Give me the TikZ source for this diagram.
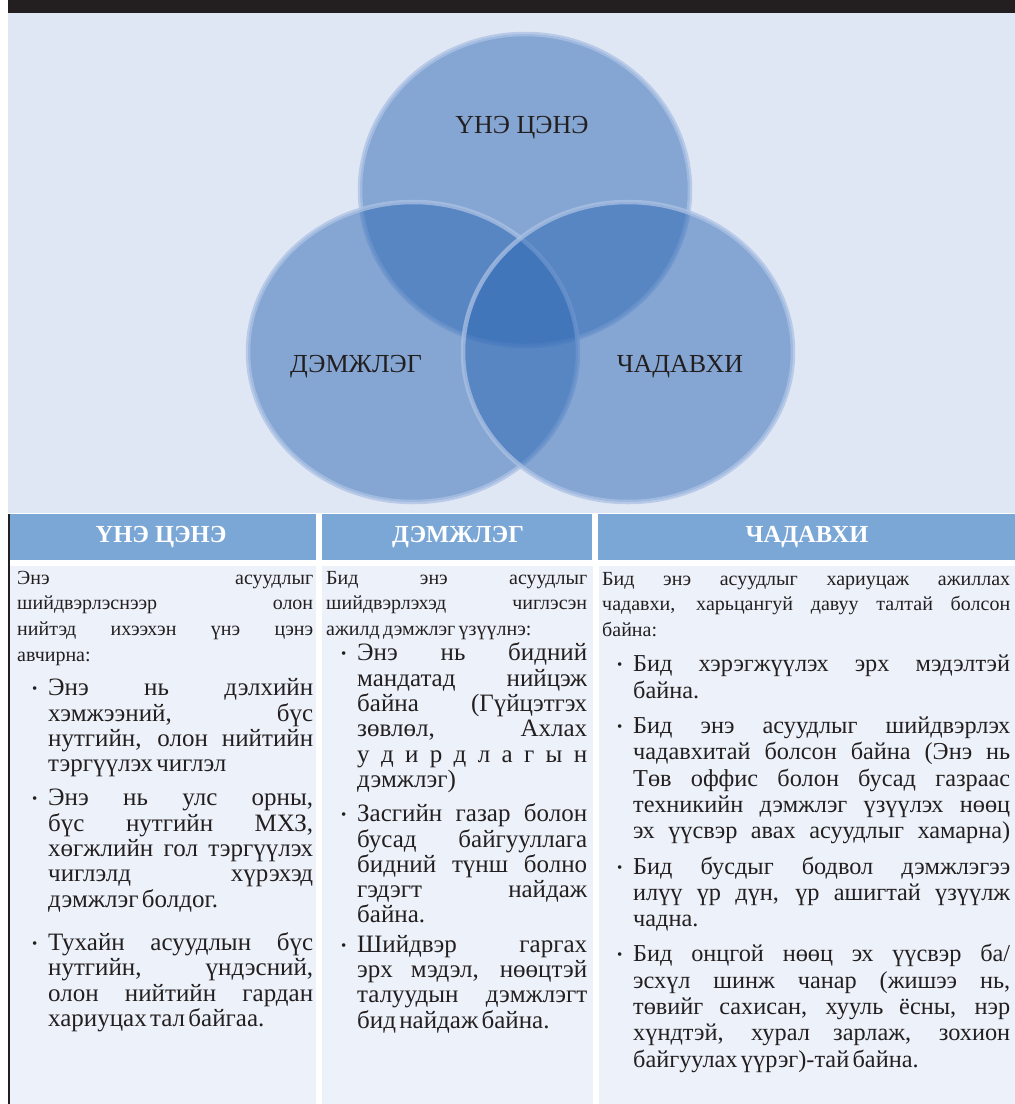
\documentclass[tikz,border=0pt]{standalone}
\usepackage{fontspec}
\setmainfont{Liberation Serif}
\usetikzlibrary{positioning}

\definecolor{titlebar}{HTML}{231F20}
\definecolor{vennback}{HTML}{DFE7F4}
\definecolor{venndisc}{HTML}{2D67B4}
\definecolor{vennring}{HTML}{ABC1E4}
\definecolor{headblue}{HTML}{7BA7D7}
\definecolor{cellblue}{HTML}{EDF2FA}
\definecolor{inktext}{HTML}{231F20}

\newlength{\celllinewidth}
\newcommand{\jl}[1]{{\spaceskip=\fontdimen2\font plus 1fil minus .5\fontdimen2\font\relax
  \leavevmode\hbox to \celllinewidth{#1}}\par}
\newcommand{\lastl}[1]{\leavevmode\hbox{#1}\par}
\newcommand{\bulletdot}{\raisebox{2pt}{\fontsize{15}{15}\selectfont •}}
\newcommand{\introfont}{\fontsize{20}{25.8}\selectfont}
\newcommand{\bulletfont}{\fontsize{25}{25.3}\selectfont}
\newenvironment{bulletlines}[1][9pt]{%
  \par\vspace{#1}\bulletfont
  \leftskip=31pt \advance\celllinewidth by -31pt
  \noindent\llap{\makebox[16pt][l]{\bulletdot}}\ignorespaces}{\par}

\begin{document}
\begin{tikzpicture}[
    x = 1pt, y = -1pt,
    venn disc/.style = {
      fill = venndisc, fill opacity = 0.5,
      draw = vennring, draw opacity = 0.75,
      line width = 4.5pt,
    },
    venn label/.style = {font = \fontsize{26}{30}\selectfont, text = inktext},
    head label/.style = {font = \fontsize{24.5}{28}\selectfont\bfseries, text = white},
    cell text/.style = {anchor = base west, inner sep = 0pt, text = inktext},
  ]
  \useasboundingbox (0, 0) rectangle (1015, 1104);

  \fill [titlebar] (8, 0) rectangle (1015, 13);
  \fill [vennback] (8, 13) rectangle (1015, 513);

  \coordinate (worth centre)   at (525, 190);
  \coordinate (support centre) at (413, 352);
  \coordinate (ability centre) at (628, 352);

  \path [venn disc] (worth centre)   ellipse [x radius = 165pt, y radius = 156pt];
  \path [venn disc] (support centre) ellipse [x radius = 165pt, y radius = 150pt];
  \path [venn disc] (ability centre) ellipse [x radius = 165pt, y radius = 150pt];

  \node [venn label] (worth label)   at (522, 128) {ҮНЭ ЦЭНЭ};
  \node [venn label] (support label) at (356, 367) {ДЭМЖЛЭГ};
  \node [venn label] (ability label) at (680, 367) {ЧАДАВХИ};

  \fill [titlebar] (8, 514) rectangle (10, 1104);

  \fill [headblue] (10, 514)  rectangle (316, 560);
  \fill [headblue] (322, 514) rectangle (592, 560);
  \fill [headblue] (598, 514) rectangle (1015, 560);

  \fill [cellblue] (10, 566)  rectangle (316, 1104);
  \fill [cellblue] (322, 566) rectangle (593, 1104);
  \fill [cellblue] (599, 566) rectangle (1015, 1104);

  \node [head label] (worth head)   at (161, 537) {ҮНЭ ЦЭНЭ};
  \node [head label] (support head) at (458, 537) {ДЭМЖЛЭГ};
  \node [head label] (ability head) at (807, 537) {ЧАДАВХИ};

  \node [cell text, text width = 296pt] (worth text) at (17, 584) {%
    \setlength{\celllinewidth}{296pt}%
    {\introfont
      \jl{Энэ асуудлыг}
      \jl{шийдвэрлэснээр олон}
      \jl{нийтэд ихээхэн үнэ цэнэ}
      \lastl{авчирна:}}
    \begin{bulletlines}
      \jl{Энэ нь дэлхийн}
      \jl{хэмжээний, бүс}
      \jl{нутгийн, олон нийтийн}
      \lastl{тэргүүлэх чиглэл}
    \end{bulletlines}
    \begin{bulletlines}
      \jl{Энэ нь улс орны,}
      \jl{бүс нутгийн МХЗ,}
      \jl{хөгжлийн гол тэргүүлэх}
      \jl{чиглэлд хүрэхэд}
      \lastl{дэмжлэг болдог.}
    \end{bulletlines}
    \begin{bulletlines}[18pt]
      \jl{Тухайн асуудлын бүс}
      \jl{нутгийн, үндэсний,}
      \jl{олон нийтийн гардан}
      \lastl{хариуцах тал байгаа.}
    \end{bulletlines}};

  \node [cell text, text width = 261pt] (support text) at (326, 584) {%
    \setlength{\celllinewidth}{261pt}%
    {\introfont
      \jl{Бид энэ асуудлыг}
      \jl{шийдвэрлэхэд чиглэсэн}
      \lastl{ажилд дэмжлэг үзүүлнэ:}}
    \begin{bulletlines}[0pt]
      \jl{Энэ нь бидний}
      \jl{мандатад нийцэж}
      \jl{байна (Гүйцэтгэх}
      \jl{зөвлөл, Ахлах}
      \jl{у д и р д л а г ы н}
      \lastl{дэмжлэг)}
    \end{bulletlines}
    \begin{bulletlines}
      \jl{Засгийн газар болон}
      \jl{бусад байгууллага}
      \jl{бидний түнш болно}
      \jl{гэдэгт найдаж}
      \lastl{байна.}
    \end{bulletlines}
    \begin{bulletlines}[4pt]
      \jl{Шийдвэр гаргах}
      \jl{эрх мэдэл, нөөцтэй}
      \jl{талуудын дэмжлэгт}
      \lastl{бид найдаж байна.}
    \end{bulletlines}};

  \node [cell text, text width = 408pt] (ability text) at (602, 585) {%
    \setlength{\celllinewidth}{408pt}%
    \renewcommand{\bulletfont}{\fontsize{24.3}{26.3}\selectfont}%
    {\introfont
      \jl{Бид энэ асуудлыг хариуцаж ажиллах}
      \jl{чадавхи, харьцангуй давуу талтай болсон}
      \lastl{байна:}}
    \begin{bulletlines}
      \jl{Бид хэрэгжүүлэх эрх мэдэлтэй}
      \lastl{байна.}
    \end{bulletlines}
    \begin{bulletlines}
      \jl{Бид энэ асуудлыг шийдвэрлэх}
      \jl{чадавхитай болсон байна (Энэ нь}
      \jl{Төв оффис болон бусад газраас}
      \jl{техникийн дэмжлэг үзүүлэх нөөц}
      \jl{эх үүсвэр авах асуудлыг хамарна)}
    \end{bulletlines}
    \begin{bulletlines}
      \jl{Бид бусдыг бодвол дэмжлэгээ}
      \jl{илүү үр дүн, үр ашигтай үзүүлж}
      \lastl{чадна.}
    \end{bulletlines}
    \begin{bulletlines}
      \jl{Бид онцгой нөөц эх үүсвэр ба/}
      \jl{эсхүл шинж чанар (жишээ нь,}
      \jl{төвийг сахисан, хууль ёсны, нэр}
      \jl{хүндтэй, хурал зарлаж, зохион}
      \lastl{байгуулах үүрэг)-тай байна.}
    \end{bulletlines}};
\end{tikzpicture}
\end{document}
